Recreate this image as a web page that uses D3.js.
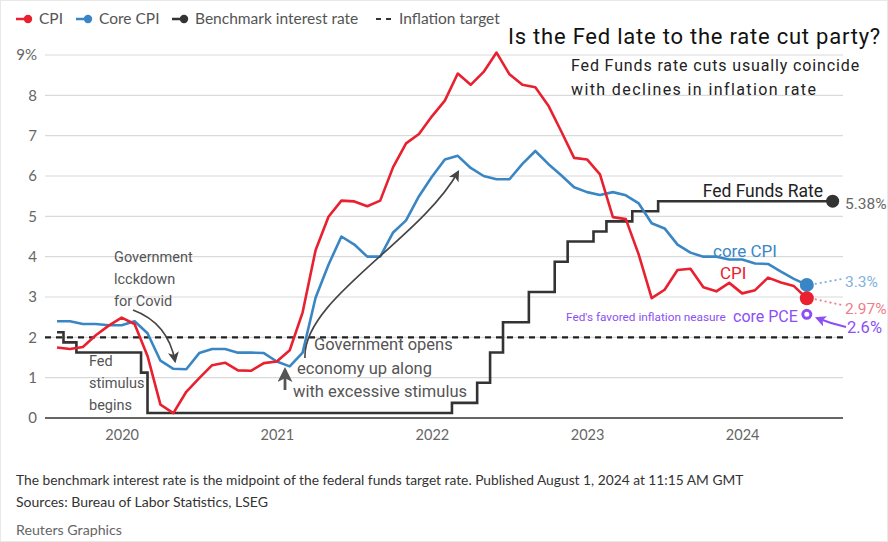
<!DOCTYPE html>
<html><head><meta charset="utf-8">
<script src="https://cdn.jsdelivr.net/npm/d3@7"></script>
<style>body{margin:0;background:#fff} svg{display:block}</style>
</head><body><svg id="c" width="888" height="542"></svg>
<script>
// ---------------- data ----------------
const months = d3.timeMonth.range(new Date(2019, 7, 1), new Date(2024, 6, 1)); // Aug 2019 .. Jun 2024
const cpi = [1.75,1.71,1.76,2.05,2.29,2.49,2.33,1.54,0.33,0.12,0.65,0.99,1.31,1.37,1.18,1.17,1.36,1.40,1.68,2.62,
  4.16,4.99,5.39,5.37,5.25,5.39,6.22,6.81,7.04,7.48,7.87,8.54,8.26,8.58,9.06,8.52,8.26,8.20,7.75,7.11,6.45,6.41,6.04,
  4.98,4.93,4.05,2.97,3.18,3.67,3.70,3.24,3.14,3.35,3.09,3.17,3.48,3.36,3.27,2.97];
const coreCpi = [2.40,2.40,2.33,2.33,2.30,2.30,2.40,2.10,1.42,1.22,1.21,1.61,1.71,1.71,1.62,1.62,1.61,1.40,1.28,1.62,
  2.98,3.80,4.50,4.30,4.00,4.00,4.60,4.90,5.50,5.98,6.41,6.50,6.20,6.00,5.92,5.92,6.30,6.62,6.30,6.02,5.72,5.60,5.53,
  5.60,5.52,5.32,4.83,4.70,4.30,4.10,4.00,4.00,3.93,3.93,3.83,3.82,3.63,3.45,3.30];
// benchmark rate (midpoint of fed funds target), changes given in months since Aug 2019
const rateStepMonth = [0, 0.5, 1.5, 6.5, 7.0, 30.55, 32.5, 33.5, 34.5, 36.5, 38.5, 39.5, 41.5, 42.5, 44.5, 46.5, 60];
const rateStepValue = [2.125, 1.875, 1.625, 1.125, 0.125, 0.375, 0.875, 1.625, 2.375, 3.125, 3.875, 4.375, 4.625, 4.875, 5.125, 5.375, 5.375];
const inflationTarget = 2;
const corePce = 2.57;
const yearLabels = ["2020", "2021", "2022", "2023", "2024"];
const yTickValues = [0, 1, 2, 3, 4, 5, 6, 7, 8, 9];
const endLabels = { rate: "5.38%", core: "3.3%", cpi: "2.97%", pce: "2.6%" };

// ---------------- layout ----------------
const svg = d3.select("#c");
const L = 45, R = 843, T = 55, B = 418;
const x = d3.scaleLinear().domain([-0.93, 60.8]).range([L, R]);
const y = d3.scaleLinear().domain([0, 9]).range([B, T]);
const RED = "#e8202f", BLUE = "#3a86c4", BLACK = "#333333", PURPLE = "#8c4ff5";
const SANS = "Lato, 'Open Sans', sans-serif", ROB = "Roboto, sans-serif";

svg.append("rect").attr("x", 0.5).attr("y", 0.5).attr("width", 887).attr("height", 541)
  .attr("fill", "#fff").attr("stroke", "#e8e8e8");

const defs = svg.append("defs");
function marker(id, color, size) {
  defs.append("marker").attr("id", id).attr("viewBox", "0 0 10 10").attr("refX", 8).attr("refY", 5)
    .attr("markerWidth", size).attr("markerHeight", size).attr("markerUnits", "userSpaceOnUse")
    .attr("orient", "auto")
    .append("path").attr("d", "M0,0 L10,5 L0,10 L2.5,5 Z").attr("fill", color);
}
marker("ah", "#444", 11);
marker("ahBig", "#555", 15);
marker("ahp", PURPLE, 11);

// grid
svg.append("g").selectAll("line").data(yTickValues.filter(d => d > 0)).join("line")
  .attr("x1", L).attr("x2", R).attr("y1", d => y(d)).attr("y2", d => y(d))
  .attr("stroke", "#dadada").attr("stroke-width", 1.2);

// y axis labels
const yAxis = d3.axisLeft(y).tickValues(yTickValues).tickSize(0).tickPadding(8)
  .tickFormat(d => d === 9 ? "9%" : d);
const gy = svg.append("g").attr("transform", `translate(${L},0)`).call(yAxis);
gy.select(".domain").remove();
gy.selectAll("text").attr("font-family", SANS).attr("font-size", 15).attr("fill", "#666");

// x axis
const janIndex = yearLabels.map(yl => months.findIndex(m => m.getFullYear() === +yl && m.getMonth() === 0));
const xAxis = d3.axisBottom(x).tickValues(janIndex).tickSize(0).tickPadding(12)
  .tickFormat((d, i) => yearLabels[i]);
const gx = svg.append("g").attr("transform", `translate(0,${B})`).call(xAxis);
gx.select(".domain").remove();
gx.selectAll("text").attr("font-family", SANS).attr("font-size", 14.5).attr("fill", "#666");

// inflation target
svg.append("line").attr("x1", L).attr("x2", R).attr("y1", y(inflationTarget)).attr("y2", y(inflationTarget))
  .attr("stroke", "#222").attr("stroke-width", 2.2).attr("stroke-dasharray", "6,5");
// zero line
svg.append("line").attr("x1", L).attr("x2", R).attr("y1", y(0)).attr("y2", y(0))
  .attr("stroke", "#333").attr("stroke-width", 1.6);

// series
const rateData = rateStepMonth.map((m, i) => [m, rateStepValue[i]]);
svg.append("path").datum(rateData)
  .attr("d", d3.line().x(d => x(d[0])).y(d => y(d[1])).curve(d3.curveStepAfter))
  .attr("fill", "none").attr("stroke", BLACK).attr("stroke-width", 2.6);
const lineM = d3.line().x((d, i) => x(i)).y(d => y(d));
svg.append("path").datum(coreCpi).attr("d", lineM)
  .attr("fill", "none").attr("stroke", BLUE).attr("stroke-width", 2.6).attr("stroke-linejoin", "round");
svg.append("path").datum(cpi).attr("d", lineM)
  .attr("fill", "none").attr("stroke", RED).attr("stroke-width", 2.6).attr("stroke-linejoin", "round");

// end points
const last = cpi.length - 1;
const rateLast = rateData[rateData.length - 1];
svg.append("circle").attr("cx", x(rateLast[0])).attr("cy", y(rateLast[1])).attr("r", 6.5).attr("fill", "#333");
svg.append("circle").attr("cx", x(last)).attr("cy", y(coreCpi[last])).attr("r", 7).attr("fill", BLUE);
svg.append("circle").attr("cx", x(last)).attr("cy", y(cpi[last])).attr("r", 7).attr("fill", RED);
svg.append("circle").attr("cx", x(last)).attr("cy", y(corePce)).attr("r", 4).attr("fill", "#fff")
  .attr("stroke", PURPLE).attr("stroke-width", 3);

// dotted connectors
svg.append("line").attr("x1", x(last) + 8).attr("y1", y(coreCpi[last]) - 1).attr("x2", 842).attr("y2", 279)
  .attr("stroke", "#7fb1dd").attr("stroke-width", 1.8).attr("stroke-dasharray", "2,3");
svg.append("line").attr("x1", x(last) + 8).attr("y1", y(cpi[last]) + 1).attr("x2", 842).attr("y2", 305)
  .attr("stroke", "#f07c8a").attr("stroke-width", 1.8).attr("stroke-dasharray", "2,3");

function txt(s, px, py, size, color, fam, anchor) {
  return svg.append("text").attr("x", px).attr("y", py).attr("font-size", size).attr("fill", color)
    .attr("font-family", fam || ROB).attr("text-anchor", anchor || "start").text(s);
}
// stretch text to a measured width with letter-spacing
function spread(t, width) {
  const w = t.node().getComputedTextLength();
  const n = t.text().length;
  t.attr("letter-spacing", ((width - w) / n).toFixed(3));
  return t;
}
// scale font size so the text spans a measured width
function fitSize(t, width) {
  const w = t.node().getComputedTextLength();
  t.attr("font-size", (+t.attr("font-size") * width / w).toFixed(2));
  return t;
}
// right labels
txt("Fed Funds Rate", 823, 197, 17.5, "#222", ROB, "end");
txt(endLabels.rate, 845, 209, 15.5, "#666");
txt("core CPI", 713, 257, 17, BLUE);
txt("CPI", 720, 279, 17, RED);
txt(endLabels.core, 845, 287, 15.5, "#7fb1dd");
txt(endLabels.cpi, 845, 314, 15.5, "#f07c8a");
txt("Fed's favored inflation neasure", 566, 321, 11.8, PURPLE);
txt("core PCE", 733, 322, 16, PURPLE);
txt(endLabels.pce, 847, 333, 16.5, PURPLE);
svg.append("path").attr("d", "M846,327 Q832,324 817,318").attr("fill", "none")
  .attr("stroke", PURPLE).attr("stroke-width", 2).attr("marker-end", "url(#ahp)");

// title
spread(txt("Is the Fed late to the rate cut party?", 508, 44, 22, "#111"), 373);
spread(txt("Fed Funds rate cuts usually coincide", 571, 71, 16, "#222"), 289);
spread(txt("with declines in inflation rate", 571, 95, 16, "#222"), 246);

// annotations
["Government", "lcckdown", "for Covid"].forEach((s, i) => txt(s, 114, 262 + i * 22, 14.5, "#555"));
["Fed", "stimulus", "begins"].forEach((s, i) => txt(s, 89, 366 + i * 22, 14.5, "#555"));
txt("Government opens", 314, 350, 16.5, "#555");
txt("economy up along", 297, 374, 16.5, "#555");
txt("with excessive stimulus", 293, 397, 16.5, "#555");
svg.append("path").attr("d", "M133,310 Q168,323 175,361").attr("fill", "none")
  .attr("stroke", "#444").attr("stroke-width", 1.6).attr("marker-end", "url(#ah)");
svg.append("path").attr("d", "M305,358 C302,300 420,240 458,172").attr("fill", "none")
  .attr("stroke", "#444").attr("stroke-width", 1.6).attr("marker-end", "url(#ah)");
svg.append("path").attr("d", "M285,390 L285,370").attr("fill", "none")
  .attr("stroke", "#555").attr("stroke-width", 2.8).attr("marker-end", "url(#ahBig)");

// legend
const lg = svg.append("g");
function legItem(x0, color, label, tx) {
  lg.append("line").attr("x1", x0).attr("x2", x0 + 15).attr("y1", 19).attr("y2", 19).attr("stroke", color).attr("stroke-width", 2.5);
  lg.append("circle").attr("cx", x0 + 12).attr("cy", 19).attr("r", 4.2).attr("fill", color);
  txt(label, tx, 24, 15.5, "#555", SANS);
}
legItem(16, RED, "CPI", 39);
legItem(76, BLUE, "Core CPI", 99);
legItem(172, BLACK, "Benchmark interest rate", 195);
lg.append("line").attr("x1", 376).attr("x2", 392).attr("y1", 19).attr("y2", 19).attr("stroke", "#333")
  .attr("stroke-width", 2).attr("stroke-dasharray", "5,5");
txt("Inflation target", 399, 24, 15.5, "#555", SANS);

// footer
fitSize(txt("The benchmark interest rate is the midpoint of the federal funds target rate. Published August 1, 2024 at 11:15 AM GMT", 16, 485, 13.5, "#333", SANS), 728);
fitSize(txt("Sources: Bureau of Labor Statistics, LSEG", 16, 507, 13.5, "#333", SANS), 252);
fitSize(txt("Reuters Graphics", 16, 535, 13.5, "#666", SANS), 106);
</script></body></html>
